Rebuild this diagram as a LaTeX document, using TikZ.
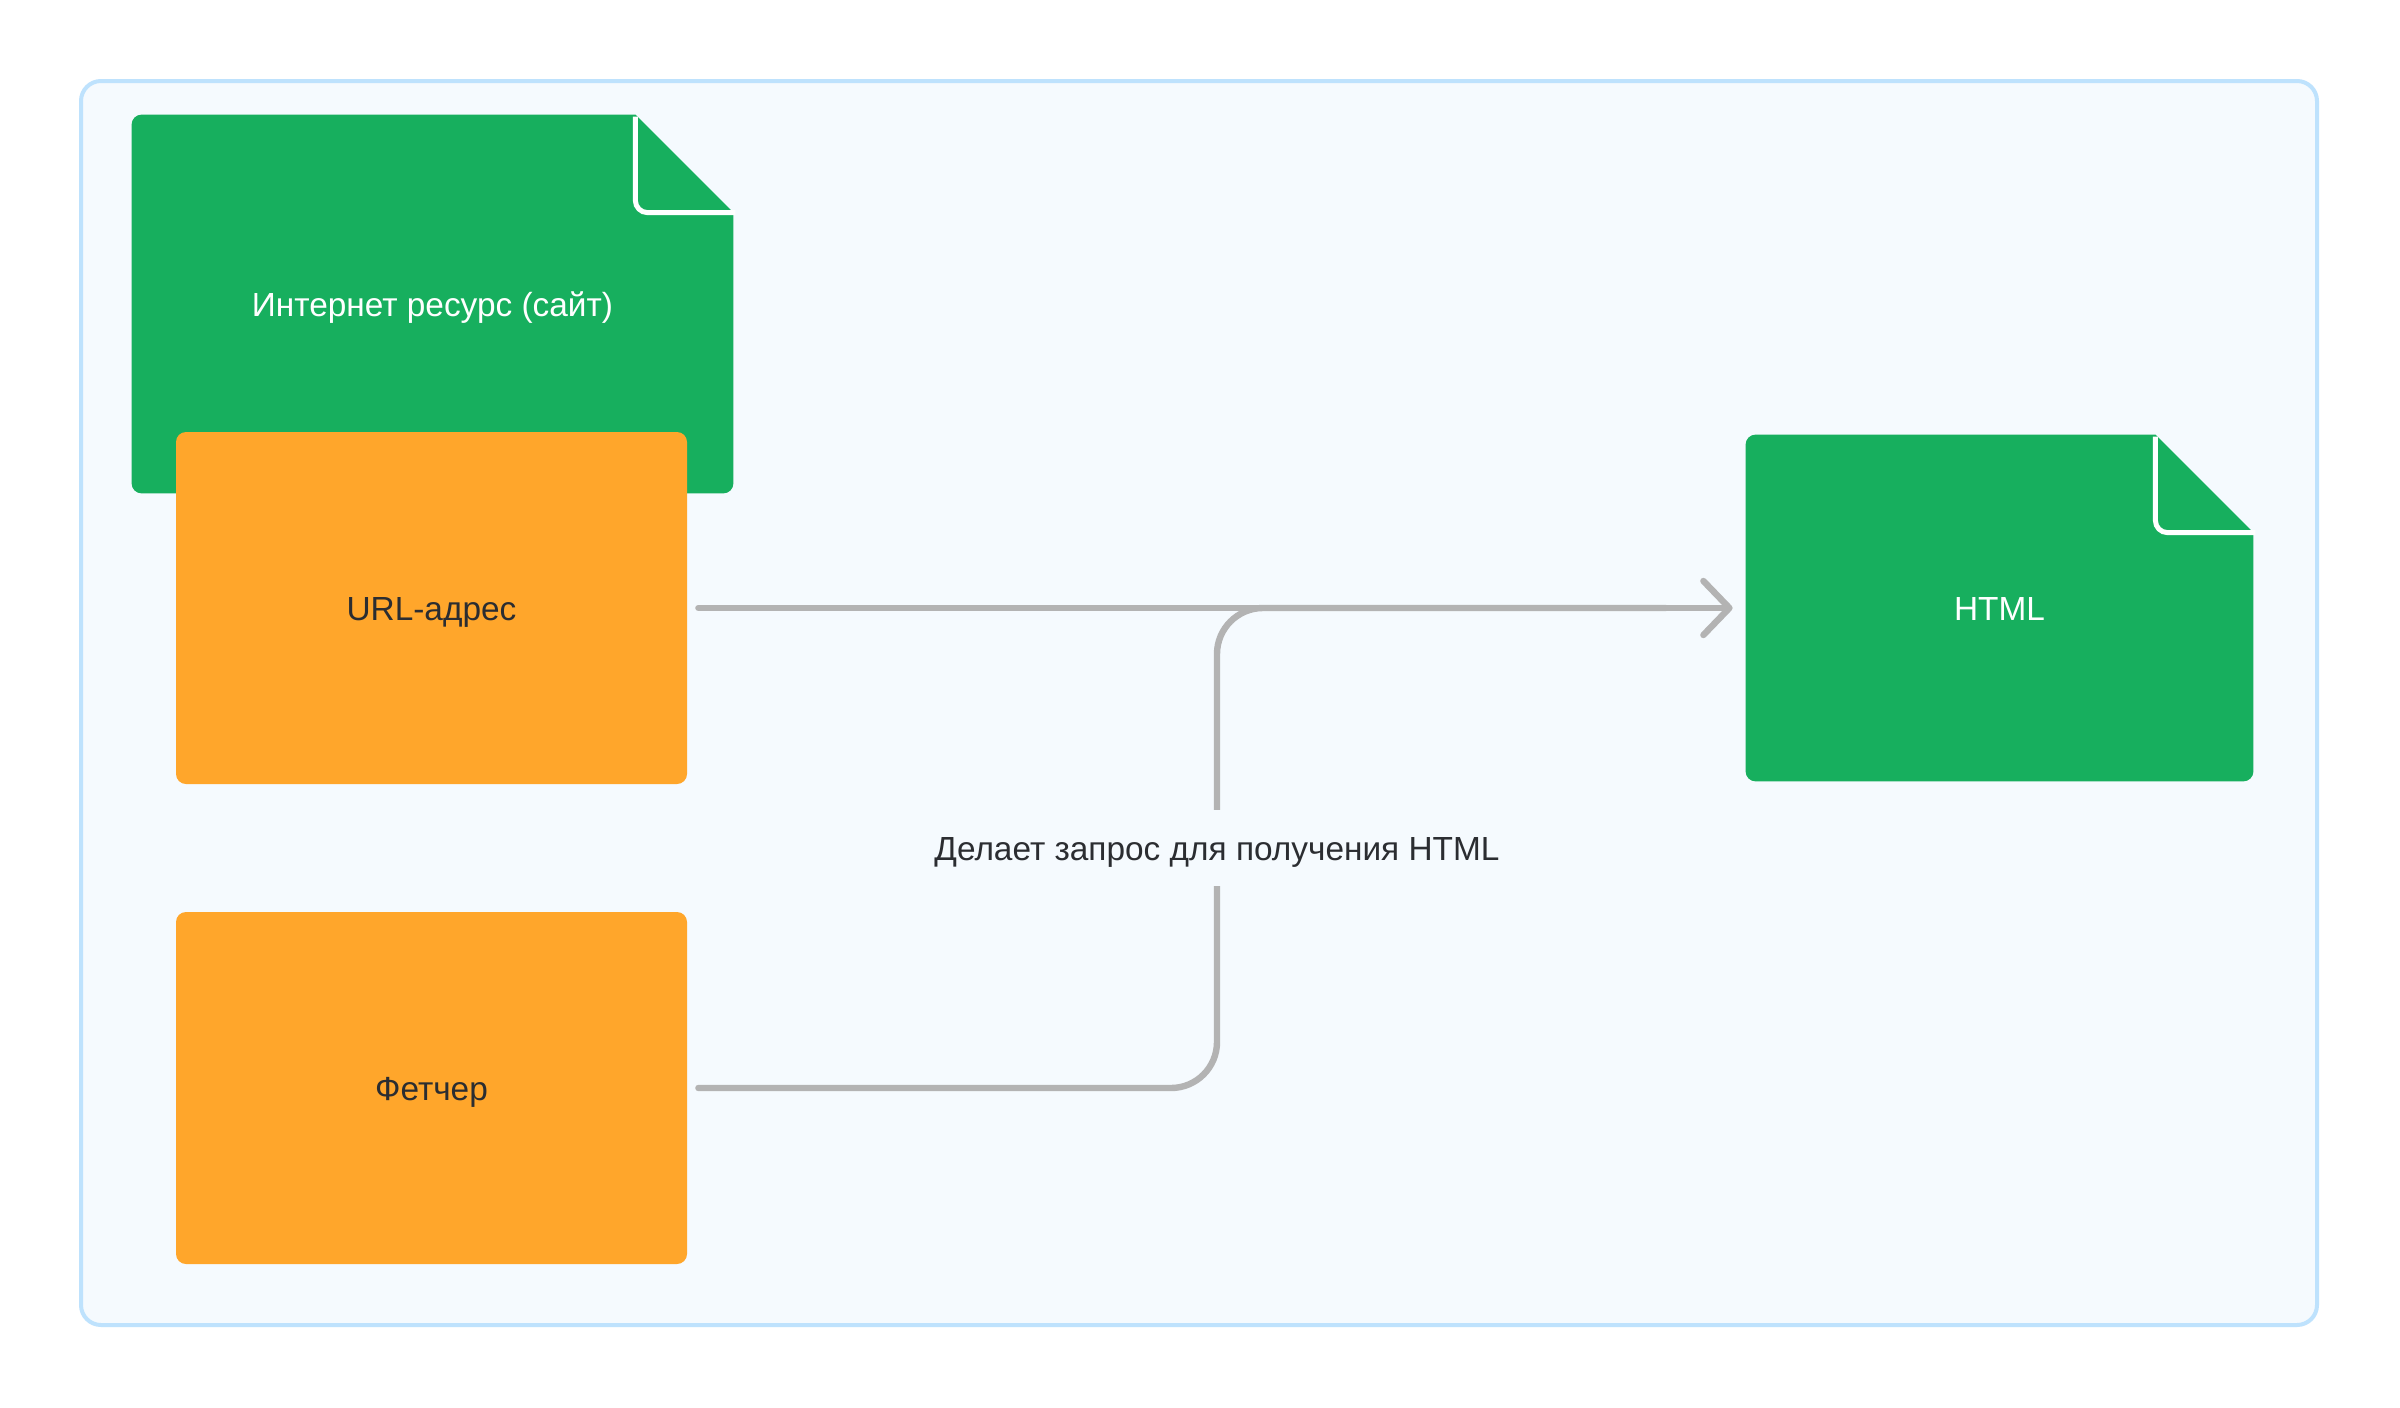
\documentclass[tikz,border=0pt]{standalone}
\usepackage{fontspec}
\setmainfont{Liberation Sans}
\usetikzlibrary{arrows.meta,backgrounds}
\definecolor{docgreen}{HTML}{17AF5E}
\definecolor{boxorange}{HTML}{FFA62B}
\definecolor{linegray}{HTML}{B3B3B3}
\definecolor{frameblue}{HTML}{BEE2FD}
\definecolor{framefill}{HTML}{F5FAFE}
\definecolor{txtdark}{HTML}{2B2D31}
\tikzset{
  txt/.style={font=\fontsize{16.7}{20}\selectfont, text height=12pt, text depth=0pt},
  docnode/.style={rectangle, minimum width=#1, minimum height=189pt, inner sep=0pt, text=white, txt},
  docnode/.default=300.5pt,
  orangebox/.style={rectangle, rounded corners=5pt, fill=boxorange, minimum width=255.5pt, minimum height=176pt, inner sep=0pt, text=txtdark, txt},
  conn/.style={draw=linegray, line width=3.2pt, line cap=round, line join=round},
  tipstyle/.style={-{Straight Barb[length=13pt,width=27pt,round]}},
  lbl/.style={fill=framefill, text=txtdark, txt, inner sep=0pt, minimum height=38pt, inner xsep=4pt}
}
\newcommand{\docshape}[1]{%
  \fill[docgreen] ([xshift=-49pt]#1.north east) [rounded corners=5pt] -- (#1.north west) -- (#1.south west) -- (#1.south east) [sharp corners] -- ([yshift=-49pt]#1.north east) -- cycle;
  \draw[white, line width=2.5pt, rounded corners=6pt] ([xshift=-49pt,yshift=-1pt]#1.north east) -- ([xshift=-49pt,yshift=-49pt]#1.north east) -- ([xshift=1pt,yshift=-49pt]#1.north east);
}
\begin{document}
\begin{tikzpicture}[x=1pt,y=1pt]
\useasboundingbox (0,0) rectangle (1200,-704);

\node[docnode] (res) at (216.25,-152) {Интернет ресурс (сайт)};
\node[docnode=253.5pt, minimum height=173pt] (html) at (999.75,-304) {HTML};
\begin{scope}[on background layer]
\fill[white] (0,0) rectangle (1200,-704);
\draw[frameblue, fill=framefill, line width=2pt, rounded corners=10pt] (40.5,-40.5) rectangle (1158.5,-662.5);
\docshape{res}
\docshape{html}
\end{scope}

\node[orangebox] (url) at (215.75,-304) {URL-адрес};
\node[orangebox] (fetch) at (215.75,-544) {Фетчер};

\coordinate (lblpos) at (608.5,-424);
\draw[conn, tipstyle] ([xshift=5.5pt]url.east) -- ([xshift=-6.5pt]html.west);
\draw[conn, rounded corners=23pt] ([xshift=5.5pt]fetch.east) -| (lblpos) |- ([xshift=-40pt]html.west);
\node[lbl] (label) at (lblpos) {Делает запрос для получения HTML};
\end{tikzpicture}
\end{document}
